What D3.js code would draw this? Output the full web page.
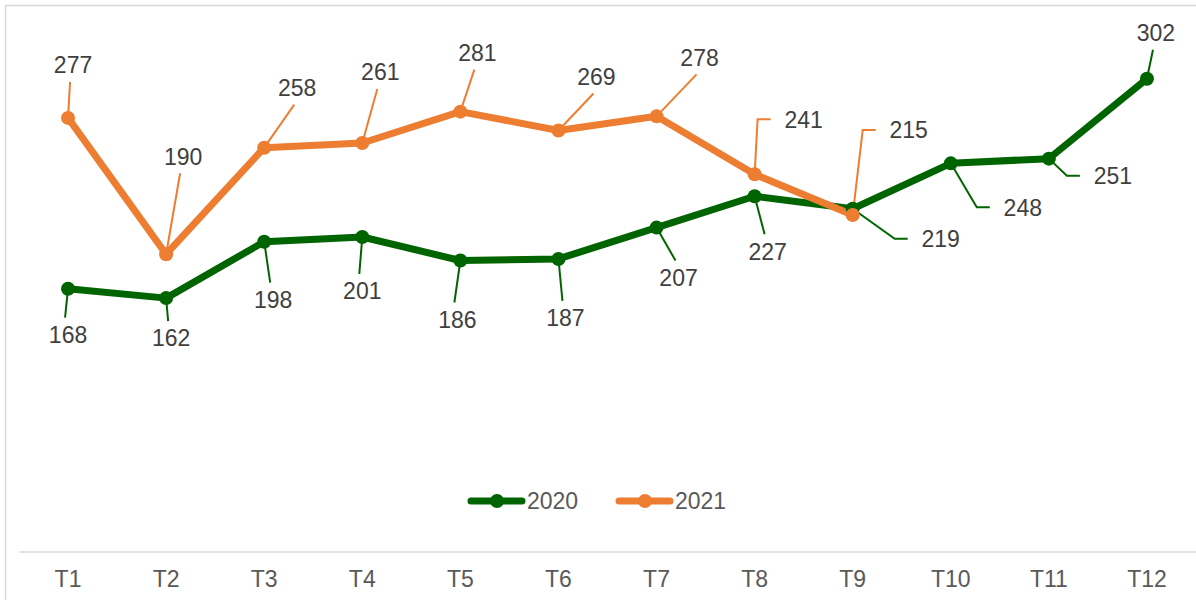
<!DOCTYPE html>
<html>
<head>
<meta charset="utf-8">
<script src="https://cdn.jsdelivr.net/npm/d3@7"></script>
<style>
  html, body { margin: 0; padding: 0; background: #fff; }
  svg { display: block; font-family: "Liberation Sans", Arial, sans-serif; }
</style>
</head>
<body>
<div id="chart"></div>
<script>
// data
const categories = ['T1', 'T2', 'T3', 'T4', 'T5', 'T6', 'T7', 'T8', 'T9', 'T10', 'T11', 'T12'];
const values2020 = [168, 162, 198, 201, 186, 187, 207, 227, 219, 248, 251, 302];
const values2021 = [277, 190, 258, 261, 281, 269, 278, 241, 215];

// label placement (offset of label centre from its point, px)
const labelOffset2020 = [[0, 46], [5, 40], [9, 58], [0, 54], [-3, 59], [7, 59], [22, 50], [13, 55], [88, 30], [72, 44], [64, 17], [9, -46]];
const labelOffset2021 = [[5, -53], [17, -98], [33, -60], [18, -71], [17, -59], [38, -54], [43, -59], [49, -55], [56, -85]];

const WIDTH = 1196, HEIGHT = 600;
const GREEN = '#006400', ORANGE = '#ED7D31';
const FONT = 23;

const series = [
  { name: '2020', values: values2020, offsets: labelOffset2020, color: GREEN },
  { name: '2021', values: values2021, offsets: labelOffset2021, color: ORANGE }
];

const svg = d3.select('#chart').append('svg')
  .attr('width', WIDTH)
  .attr('height', HEIGHT);

// chart border (runs off the right/bottom edge)
svg.append('rect')
  .attr('x', 5.5).attr('y', 5.5)
  .attr('width', WIDTH + 20).attr('height', HEIGHT + 20)
  .attr('fill', '#fff')
  .attr('stroke', '#d9d9d9')
  .attr('stroke-width', 1.5);

//scales
const x = d3.scaleBand().domain(categories).range([19, 1196]).padding(0);
const y = d3.scaleLinear().domain([0, 350]).range([552, 3.5]);
const cx = c => x(c) + x.bandwidth() / 2;

// x axis
const xAxis = svg.append('g')
  .attr('transform', `translate(0, ${y(0) - 0.5})`)
  .call(d3.axisBottom(x).tickSize(0).tickPadding(19));
xAxis.select('.domain').attr('stroke', '#d9d9d9').attr('stroke-width', 1.5);
xAxis.selectAll('text')
  .attr('font-size', FONT)
  .attr('font-family', '"Liberation Sans", Arial, sans-serif')
  .attr('fill', '#595959');

const line = d3.line()
  .x((d, i) => cx(categories[i]))
  .y(d => y(d));

// lines
svg.selectAll('path.series')
  .data(series)
  .join('path')
  .attr('class', 'series')
  .attr('d', d => line(d.values))
  .attr('fill', 'none')
  .attr('stroke', d => d.color)
  .attr('stroke-width', 7)
  .attr('stroke-linejoin', 'round');

// label geometry
const labels = [];
series.forEach(s => {
  s.values.forEach((v, i) => {
    const px = cx(categories[i]), py = y(v);
    const [dx, dy] = s.offsets[i];
    labels.push({ s, v, px, py, lx: px + dx, ly: py + dy });
  });
});

const leaderPath = d => {
  const left = d.lx - 19;
  if (left - d.px > 28) {
    // elbow leader to the side of the label
    return `M${d.px},${d.py}L${left - 27},${d.ly}L${left - 14},${d.ly}`;
  }
  const ey = d.ly < d.py ? d.ly + 17 : d.ly - 17;
  return `M${d.px},${d.py}L${d.lx - 3},${ey}`;
};

// leader lines
svg.append('g').selectAll('path')
  .data(labels)
  .join('path')
  .attr('d', leaderPath)
  .attr('fill', 'none')
  .attr('stroke', d => d.s.color)
  .attr('stroke-width', 2);

// markers
svg.append('g').selectAll('circle')
  .data(labels)
  .join('circle')
  .attr('cx', d => d.px)
  .attr('cy', d => d.py)
  .attr('r', 7)
  .attr('fill', d => d.s.color);

// data labels
svg.append('g').selectAll('text')
  .data(labels)
  .join('text')
  .attr('x', d => d.lx)
  .attr('y', d => d.ly)
  .attr('dy', '0.36em')
  .attr('text-anchor', 'middle')
  .attr('font-size', FONT)
  .attr('fill', '#404040')
  .text(d => d.v);

// legend
const legend = svg.append('g').attr('transform', 'translate(468, 501)');
const items = legend.selectAll('g')
  .data(series)
  .join('g')
  .attr('transform', (d, i) => `translate(${i * 148}, 0)`);
items.append('line')
  .attr('x1', 3).attr('x2', 54)
  .attr('stroke', d => d.color)
  .attr('stroke-width', 7)
  .attr('stroke-linecap', 'round');
items.append('circle')
  .attr('cx', 29).attr('r', 7)
  .attr('fill', d => d.color);
items.append('text')
  .attr('x', 59)
  .attr('dy', '0.36em')
  .attr('font-size', FONT)
  .attr('fill', '#595959')
  .text(d => d.name);
</script>
</body>
</html>
